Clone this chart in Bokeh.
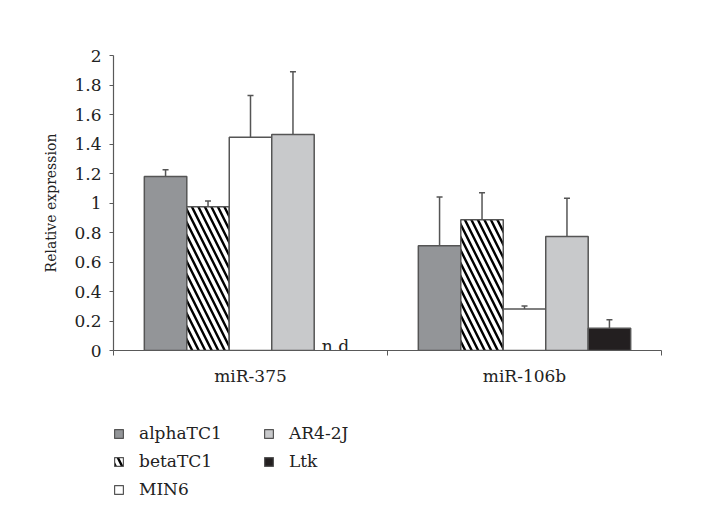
import numpy as np
from bokeh.plotting import figure
from bokeh.layouts import column
from bokeh.models import (ColumnDataSource, Range1d, FixedTicker, Whisker, TeeHead,
                          Legend, LegendItem)
from bokeh.transform import dodge
from bokeh.core.properties import value
from bokeh.embed import file_html
from bokeh.resources import INLINE

# ---------------- data ----------------
categories = ["miR-375", "miR-106b"]
series = ["alphaTC1", "betaTC1", "MIN6", "AR4-2J", "Ltk"]

alphaTC1 = [1.18, 0.71]
alphaTC1_err = [0.045, 0.33]
betaTC1 = [0.975, 0.886]
betaTC1_err = [0.038, 0.183]
MIN6 = [1.446, 0.282]
MIN6_err = [0.283, 0.02]
AR4_2J = [1.464, 0.773]
AR4_2J_err = [0.425, 0.26]
Ltk = [np.nan, 0.151]          # n.d for miR-375
Ltk_err = [np.nan, 0.057]

y_ticks = [0, 0.2, 0.4, 0.6, 0.8, 1, 1.2, 1.4, 1.6, 1.8, 2]
y_tick_labels = ["0", "0.2", "0.4", "0.6", "0.8", "1", "1.2", "1.4", "1.6", "1.8", "2"]
nd_label = "n.d"

values = [alphaTC1, betaTC1, MIN6, AR4_2J, Ltk]
errors = [alphaTC1_err, betaTC1_err, MIN6_err, AR4_2J_err, Ltk_err]

# ---------------- styles ----------------
FONT = "DejaVu Serif"
TXT = "#222222"
AX = "#595959"
OUT = "#555555"
BAR_W = 0.155
styles = [
    dict(fill_color="#939598"),
    dict(fill_color="white", hatch_pattern="\\", hatch_color="black",
         hatch_weight=2.4, hatch_scale=13),
    dict(fill_color="white"),
    dict(fill_color="#c8c9cb"),
    dict(fill_color="#231f20"),
]

ncat = len(categories)
xc = [i + 0.5 for i in range(ncat)]
bounds = list(range(ncat + 1))

W = 706
p = figure(width=W, height=400, output_backend="svg", toolbar_location=None,
           x_range=Range1d(0, ncat), y_range=Range1d(0, 2),
           min_border_left=113, min_border_right=45, min_border_top=55,
           min_border_bottom=50, title=None)
p.outline_line_color = None
p.grid.visible = False
p.background_fill_color = "white"
p.border_fill_color = "white"

renderers = []
for k, (name, vals, errs, st) in enumerate(zip(series, values, errors, styles)):
    v = np.array(vals, dtype=float)
    e = np.array(errs, dtype=float)
    src = ColumnDataSource(dict(xc=xc, top=v, upper=v + e))
    off = (k - 2) * BAR_W
    r = p.vbar(x=dodge("xc", off), top="top", bottom=0, width=BAR_W, source=src,
               line_color=OUT, line_width=1.5, **st)
    renderers.append(r)
    w = Whisker(base=dodge("xc", off), lower="top", upper="upper", source=src,
                dimension="height", line_color=OUT, line_width=1.5,
                upper_head=TeeHead(size=6, line_color=OUT, line_width=1.5),
                lower_head=None)
    p.add_layout(w)

# n.d label where Ltk is not detected
nd_x = [xc[i] for i in range(ncat) if np.isnan(Ltk[i])]
nd_src = ColumnDataSource(dict(xc=nd_x, y=[0] * len(nd_x), t=[nd_label] * len(nd_x)))
p.text(x=dodge("xc", 2 * BAR_W), y="y", text="t", source=nd_src,
       text_font=value(FONT), text_font_size="17px", text_color=TXT,
       text_align="center", text_baseline="alphabetic", y_offset=-5)

# axes
xa = p.xaxis[0]
xa.ticker = FixedTicker(ticks=xc, minor_ticks=bounds)
xa.major_label_overrides = {x: c for x, c in zip(xc, categories)}
xa.major_tick_out = 0
xa.major_tick_in = 0
xa.minor_tick_out = 5
xa.minor_tick_in = 0
xa.minor_tick_line_color = AX
xa.axis_line_color = AX
xa.axis_line_width = 1.2
xa.major_label_text_font = FONT
xa.major_label_text_font_size = "17px"
xa.major_label_text_color = TXT
xa.major_label_standoff = 10

ya = p.yaxis[0]
ya.ticker = FixedTicker(ticks=y_ticks, minor_ticks=[])
ya.major_label_overrides = {t: l for t, l in zip(y_ticks, y_tick_labels)}
ya.major_tick_out = 4
ya.major_tick_in = 0
ya.major_tick_line_color = AX
ya.axis_line_color = AX
ya.axis_line_width = 1.2
ya.major_label_text_font = FONT
ya.major_label_text_font_size = "17px"
ya.major_label_text_color = TXT
ya.major_label_standoff = 8
ya.axis_label = "Relative expression"
ya.axis_label_text_font = FONT
ya.axis_label_text_font_size = "14px"
ya.axis_label_text_font_style = "normal"
ya.axis_label_text_color = TXT
ya.axis_label_standoff = 12

# ---------------- legend strip (separate figure below) ----------------
LH = 108
pl = figure(width=W, height=LH, output_backend="svg", toolbar_location=None,
            x_range=Range1d(0, W), y_range=Range1d(0, LH),
            x_axis_location=None, y_axis_location=None,
            min_border_left=0, min_border_right=0, min_border_top=0,
            min_border_bottom=0, title=None)
pl.outline_line_color = None
pl.grid.visible = False

leg_renderers = []
for st in styles:
    src = ColumnDataSource(dict(x=[-1000.0], top=[0.0]))
    leg_renderers.append(pl.vbar(x="x", top="top", bottom=0, width=1, source=src,
                                 line_color=OUT, line_width=1.2, **st))

def make_legend(idx, loc):
    lg = Legend(items=[LegendItem(label=series[i], renderers=[leg_renderers[i]]) for i in idx],
                location=loc, orientation="vertical", padding=0, margin=0,
                border_line_color=None, background_fill_alpha=0,
                glyph_width=11, glyph_height=11, label_standoff=15,
                label_height=20, spacing=8,
                label_text_font=FONT, label_text_font_size="17px",
                label_text_color=TXT)
    pl.add_layout(lg, "center")

make_legend([0, 1, 2], (0, 9))
make_legend([3, 4], (150, 37))

layout = column(p, pl, spacing=0)
open("out.html", "w").write(file_html(layout, INLINE))
